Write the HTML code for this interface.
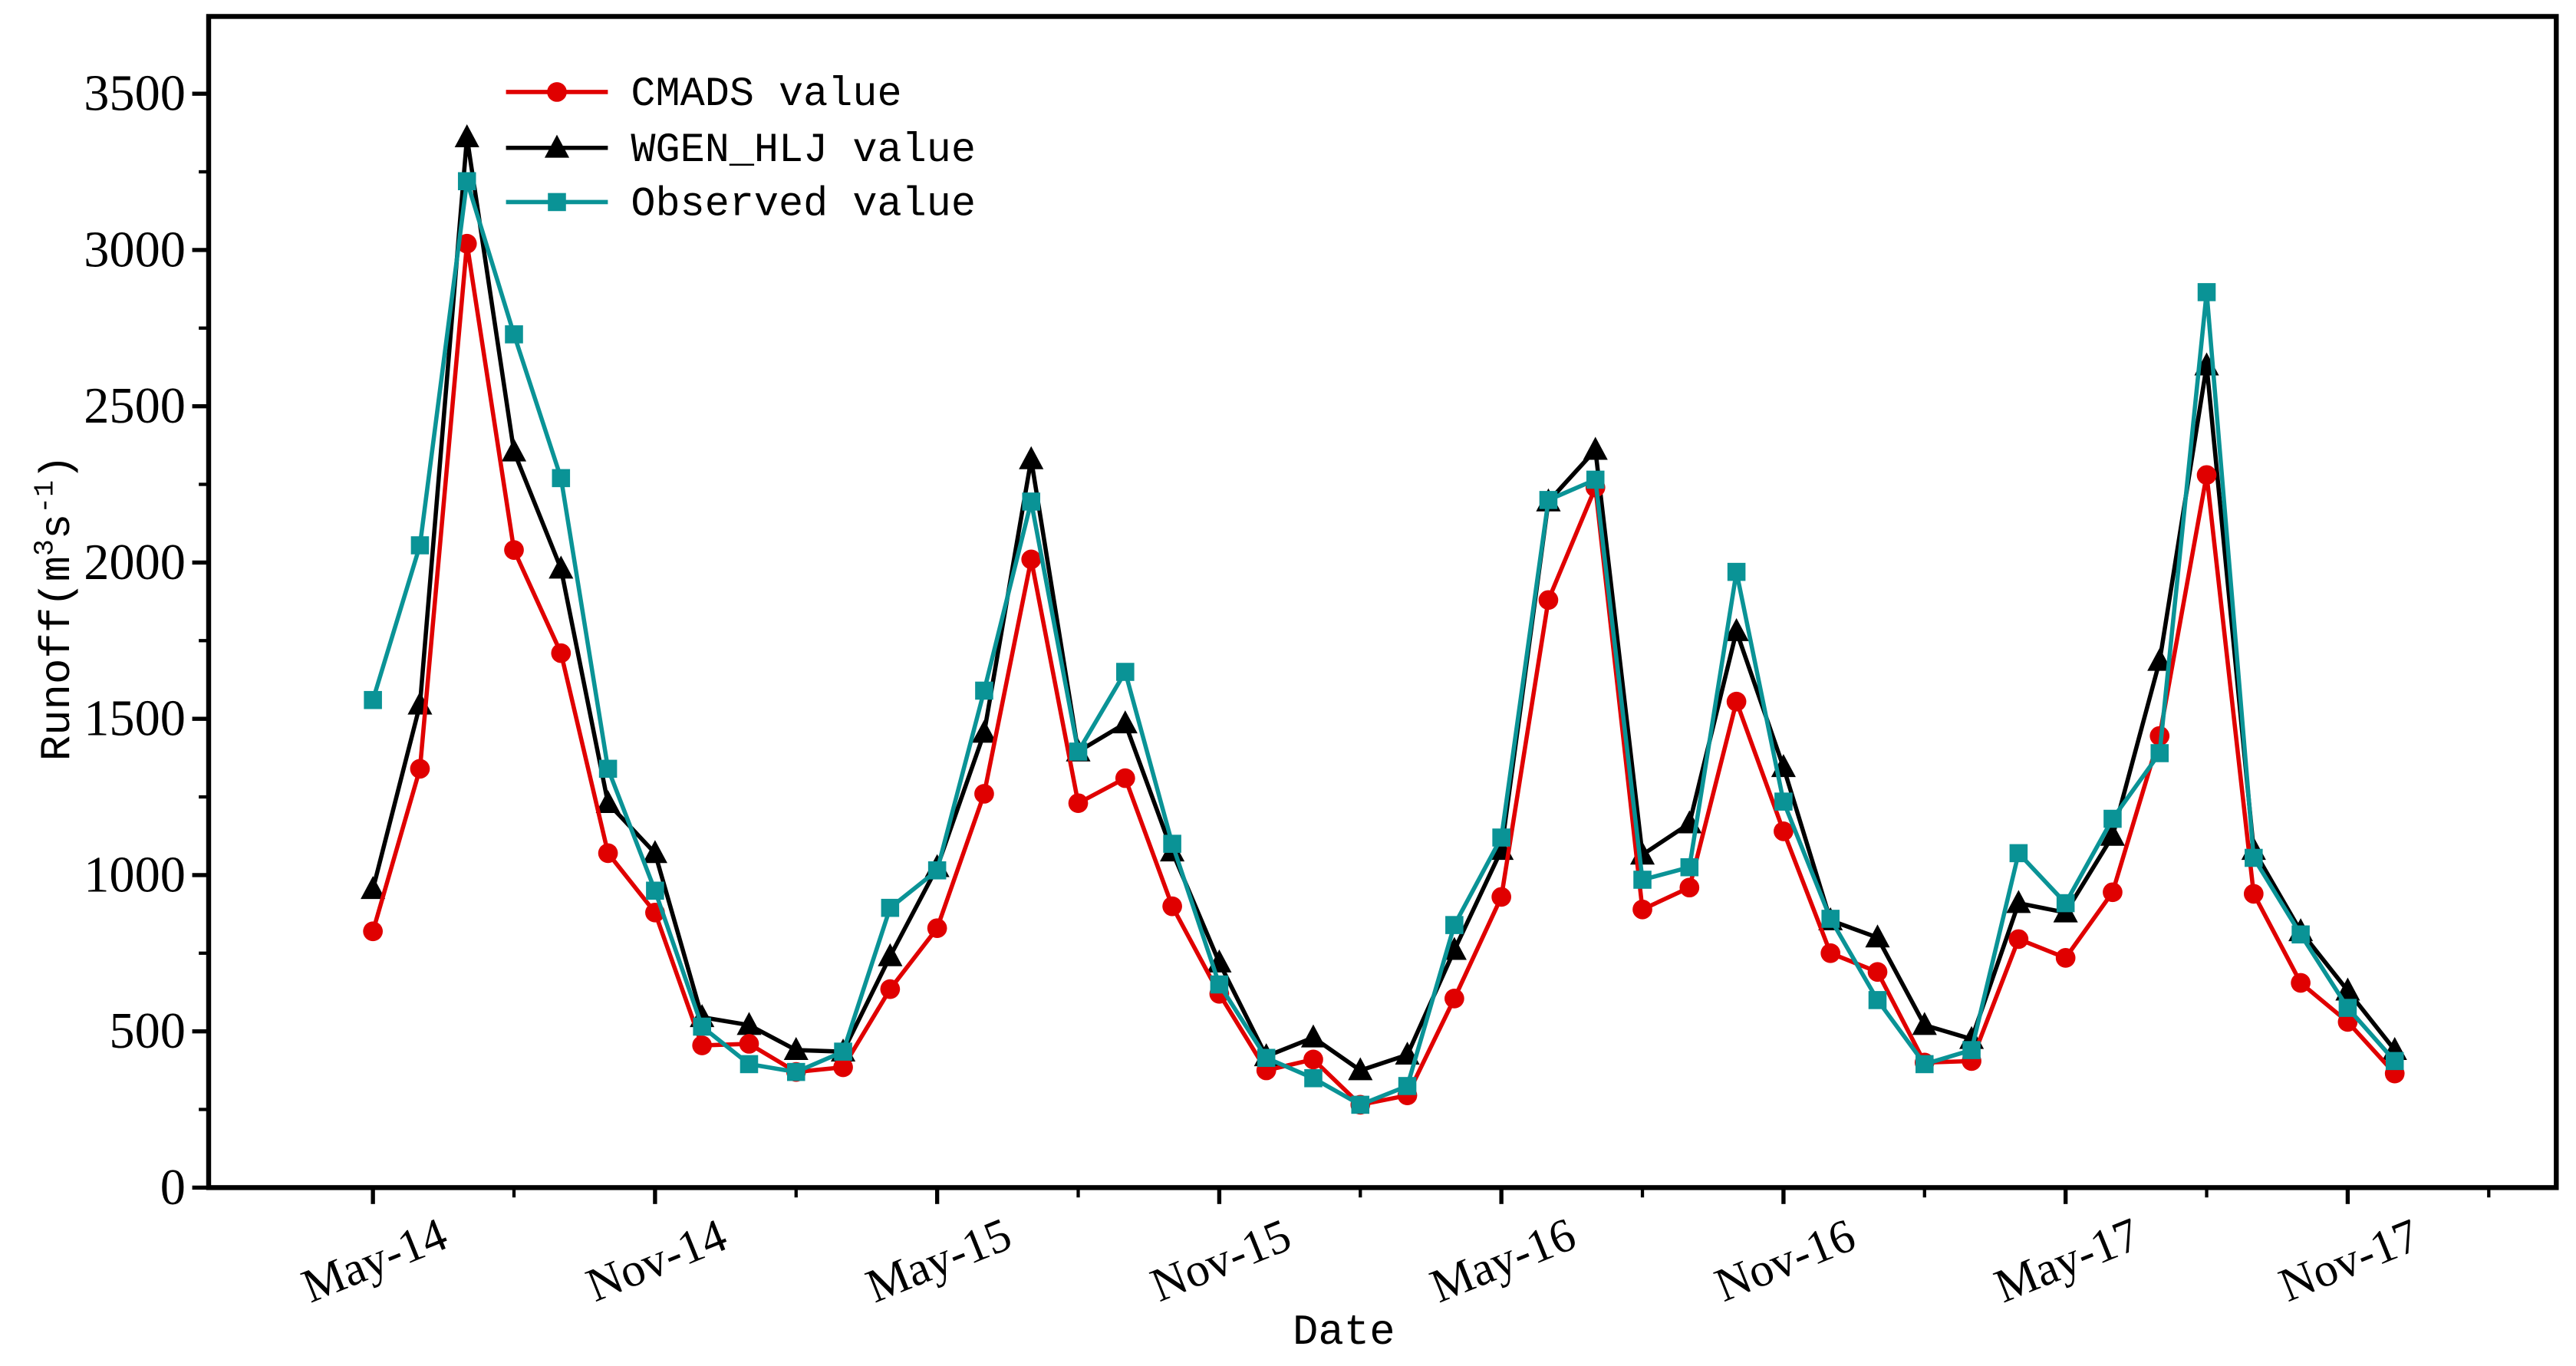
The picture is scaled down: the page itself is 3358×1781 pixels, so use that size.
<!DOCTYPE html>
<html><head><meta charset="utf-8"><style>html,body{margin:0;padding:0;background:#fff}svg{display:block}</style></head>
<body>
<svg id="chart" xmlns="http://www.w3.org/2000/svg" width="3358" height="1781" viewBox="0 0 1568 831.6">
<rect x="0" y="0" width="1568" height="831.6" fill="#fff"/>
<g id="grid"></g>
<g id="series"></g>
<rect x="127" y="10" width="1429" height="713" fill="none" stroke="#000" stroke-width="3"/>
<g id="axes" font-family="Liberation Serif, serif" font-size="31" fill="#000"></g>
<text x="818" y="818" text-anchor="middle" font-family="Liberation Mono, monospace" font-size="26">Date</text>
<text transform="translate(42,370) rotate(-90)" text-anchor="middle" font-family="Liberation Mono, monospace" font-size="26">Runoff(m<tspan font-size="17" dy="-10">3</tspan><tspan dy="10">s</tspan><tspan font-size="17" dy="-10">-1</tspan><tspan dy="10">)</tspan></text>
<g id="legend" font-family="Liberation Mono, monospace" font-size="25"></g>
</svg>
<script>
const months = ["May-14","Jun-14","Jul-14","Aug-14","Sep-14","Oct-14","Nov-14","Dec-14","Jan-15","Feb-15","Mar-15","Apr-15","May-15","Jun-15","Jul-15","Aug-15","Sep-15","Oct-15","Nov-15","Dec-15","Jan-16","Feb-16","Mar-16","Apr-16","May-16","Jun-16","Jul-16","Aug-16","Sep-16","Oct-16","Nov-16","Dec-16","Jan-17","Feb-17","Mar-17","Apr-17","May-17","Jun-17","Jul-17","Aug-17","Sep-17","Oct-17","Nov-17","Dec-17"];
const cmads = [820,1340,3020,2040,1710,1070,880,455,460,370,385,635,830,1260,2010,1230,1310,900,620,375,410,265,295,605,930,1880,2240,890,960,1555,1140,750,690,400,405,795,735,945,1445,2280,940,655,530,365];
const wgen = [955,1545,3360,2355,1980,1230,1070,545,520,440,435,740,1025,1455,2330,1395,1485,1075,720,420,480,375,425,760,1080,2195,2360,1065,1165,1780,1345,855,800,520,475,910,880,1125,1685,2630,1080,820,630,440];
const observed = [1560,2055,3220,2730,2270,1340,950,515,395,370,435,895,1015,1590,2195,1395,1650,1100,650,415,350,265,325,840,1120,2200,2265,985,1025,1970,1235,860,600,395,440,1070,910,1180,1390,2865,1055,810,575,405];
const xTickLabels = ["May-14","Nov-14","May-15","Nov-15","May-16","Nov-16","May-17","Nov-17"];
const yTicks = [0,500,1000,1500,2000,2500,3000,3500];

const NS="http://www.w3.org/2000/svg";
const X0=227, DX=28.62, Y0=723, YS=95.14/500;
const xs=i=>X0+i*DX;
const ys=v=>Y0-v*YS;
function mk(tag,attrs,parent){const e=document.createElementNS(NS,tag);for(const k in attrs)e.setAttribute(k,attrs[k]);parent.appendChild(e);return e;}
const axes=document.getElementById('axes');
yTicks.forEach(v=>{
  const t=mk('line',{x1:117,x2:127,y1:ys(v),y2:ys(v),stroke:'#000','stroke-width':2.5},axes);
  
  
  const l=mk('text',{x:113,y:ys(v)+10,'text-anchor':'end'},axes);
  
  
  l.textContent=v;
  if(v<3500){const m=mk('line',{x1:121,x2:127,y1:ys(v+250),y2:ys(v+250),stroke:'#000','stroke-width':2},axes);
  
  }
});
xTickLabels.forEach((lab,k)=>{
  const i=months.indexOf(lab);const x=xs(i);
  const t=mk('line',{x1:x,x2:x,y1:723,y2:733,stroke:'#000','stroke-width':2.5},axes);
  
  
  const l=mk('text',{x:x,y:777,'text-anchor':'middle',transform:`rotate(-22 ${x} 765)`,'font-size':29},axes);
  
  
  l.textContent=lab;
  const m=xs(i+3);if(m<1556){const mm=mk('line',{x1:m,x2:m,y1:723,y2:729,stroke:'#000','stroke-width':2},axes);
  
  }
});
const sg=document.getElementById('series');
function marker(type,x,y,color,g){
  let e;
  if(type==='circle')e=mk('circle',{cx:x,cy:y,r:6,fill:color},g);
  else if(type==='tri')e=mk('polygon',{points:`${x},${y-8} ${x-7.5},${y+6} ${x+7.5},${y+6}`,fill:color},g);
  else e=mk('rect',{x:x-5.5,y:y-5.5,width:11,height:11,fill:color},g);
  return e;
}
function series(name,vals,color,type){
  const g=mk('g',{},sg);
  
  
  const p=mk('polyline',{points:vals.map((v,i)=>xs(i)+','+ys(v)).join(' '),fill:'none',stroke:color,'stroke-width':2.6},g);
  
  
  vals.forEach((v,i)=>{const m=marker(type,xs(i),ys(v),color,g);
    
    });
}
series('wgen-hlj',wgen,'#000000','tri');
series('cmads',cmads,'#e00000','circle');
series('observed',observed,'#0a9396','sq');
const lg=document.getElementById('legend');
[['CMADS value','#e00000','circle',56],['WGEN_HLJ value','#000000','tri',90],['Observed value','#0a9396','sq',123]].forEach(([t,c,ty,y])=>{
  const g=mk('g',{},lg);
  
  
  mk('line',{x1:308,x2:370,y1:y,y2:y,stroke:c,'stroke-width':2.6},g);
  marker(ty,339,y,c,g);
  const tx=mk('text',{x:384,y:y+8},g);tx.textContent=t;
});
</script>
</body></html>
